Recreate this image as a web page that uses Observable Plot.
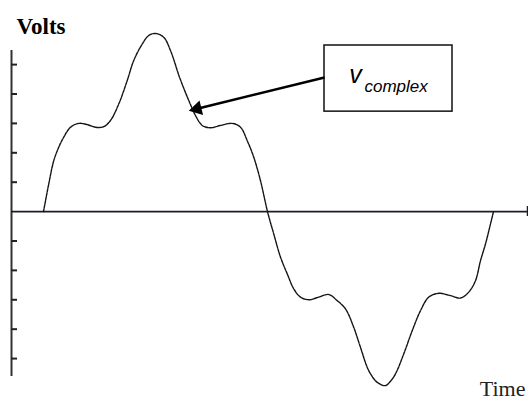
<!DOCTYPE html>
<html><head><meta charset="utf-8">
<script src="https://cdn.jsdelivr.net/npm/d3@7"></script>
<script src="https://cdn.jsdelivr.net/npm/@observablehq/plot@0.6"></script>
<style>html,body{margin:0;padding:0;background:#fff}svg{display:block}</style>
</head><body><div id="chart"></div>
<script>
// Waveform: time (degrees of one cycle) and volts
const time = [0,4.2,8.2,12.2,16.2,21.6,28.2,35,41.6,48.2,53.6,60.2,67,72.2,79,84.2,89.6,96.2,101.6,109,116.2,121.6,127,133.6,141.6,151,157.6,163,168.2,173.6,179.2,
  184.2,189.6,195,200.2,205.6,212.2,220.2,228.2,235,241.6,248.2,253.6,260.2,267,273.6,277,281.6,288.2,295,301.6,308.2,316.2,325.6,333.6,340.2,345.6,349.6,353.6,357.6,360];
const volts = [0,0.94,1.73,2.19,2.53,2.87,3.00,2.96,2.87,2.89,3.10,3.66,4.46,5.14,5.70,5.99,6.06,5.93,5.48,4.55,3.78,3.27,2.93,2.85,2.93,3.00,2.87,2.41,1.85,1.05,0,
  -0.76,-1.55,-2.12,-2.63,-2.91,-3.00,-2.91,-2.82,-3.03,-3.31,-3.94,-4.62,-5.41,-5.81,-5.92,-5.80,-5.52,-4.84,-4.05,-3.37,-2.91,-2.78,-2.86,-2.94,-2.74,-2.35,-1.67,-1.10,-0.42,0];
const yTicks = [5,4,3,2,1,-1,-2,-3,-4,-5];
const xDomain = [-25.6, 387.2];
const yDomain = [-5.61, 5.48];
// Annotation (data coordinates)
const boxX = [224.8, 327.2];
const boxY = [3.40, 5.65];
const arrowFrom = [224.8, 4.56];
const arrowHead = [122.9, 3.50];
const labelMain = "v";
const labelSub = "complex";
const labelMainPos = [249.6, 4.63];
const labelSubPos = [256.8, 4.25];

const data = time.map((t, i) => ({t, v: volts[i]}));

const chart = Plot.plot({
  width: 528, height: 405,
  marginLeft: 11, marginRight: 1, marginTop: 50, marginBottom: 29,
  x: {domain: xDomain, axis: null},
  y: {domain: yDomain, axis: null},
  marks: [
    Plot.ruleX([xDomain[0]], {y1: yDomain[0], y2: yDomain[1], stroke: "#333", strokeWidth: 2}),
    Plot.axisY(yTicks, {anchor: "left", tickSize: 6, dx: 6, stroke: "#222", strokeWidth: 2, tickFormat: () => "", label: null}),
    Plot.ruleY([0], {x1: xDomain[0], x2: xDomain[1], stroke: "#1c1c28", strokeWidth: 1.8}),
    Plot.ruleX([xDomain[1]], {y1: -0.17, y2: 0.17, stroke: "#1c1c28", strokeWidth: 1.5}),
    Plot.line(data, {x: "t", y: "v", curve: "catmull-rom", stroke: "#151515", strokeWidth: 1.4, strokeDasharray: "3,1"}),
    Plot.rect([0], {x1: [boxX[0]], x2: [boxX[1]], y1: [boxY[0]], y2: [boxY[1]], fill: "white", stroke: "#111", strokeWidth: 1.5}),
    Plot.link([0], {x1: [arrowFrom[0]], y1: [arrowFrom[1]], x2: [arrowHead[0]], y2: [arrowHead[1]], stroke: "#000", strokeWidth: 2.5}),
    Plot.dot([0], {x: [arrowHead[0]], y: [arrowHead[1]], symbol: "triangle", r: 5.5, rotate: 256.4, fill: "#000", stroke: null}),
    Plot.text([labelMain], {x: [labelMainPos[0]], y: [labelMainPos[1]], fontSize: 25, fontStyle: "italic", fontFamily: "Liberation Sans, Arial, sans-serif", fill: "#000", textAnchor: "middle"}),
    Plot.text([labelSub], {x: [labelSubPos[0]], y: [labelSubPos[1]], fontSize: 17, fontStyle: "italic", fontFamily: "Liberation Sans, Arial, sans-serif", fill: "#000", textAnchor: "start"}),
    Plot.text(["Volts"], {frameAnchor: "top-left", dx: 5, dy: -33, textAnchor: "start", fontSize: 23, fontWeight: "bold", fontFamily: "Liberation Serif, Times New Roman, serif", fill: "#000"}),
    Plot.text(["Time"], {frameAnchor: "bottom-right", dx: -2, dy: 19, textAnchor: "end", fontSize: 22, fontFamily: "Liberation Serif, Times New Roman, serif", fill: "#222"})
  ]
});
document.getElementById("chart").appendChild(chart);
</script>
</body></html>
